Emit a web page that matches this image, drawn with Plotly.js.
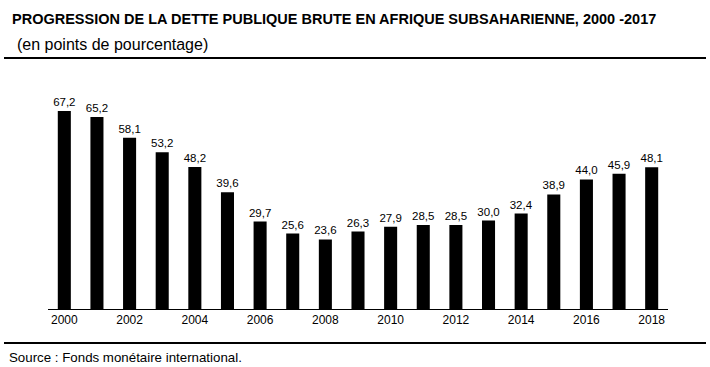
<!DOCTYPE html>
<html><head><meta charset="utf-8">
<script src="https://cdn.plot.ly/plotly-3.0.1.min.js"></script>
<style>body{margin:0;background:#fff}</style>
</head><body>
<div id="chart" style="width:710px;height:367px"></div>
<script>
const years = ["2000","2001","2002","2003","2004","2005","2006","2007","2008","2009","2010","2011","2012","2013","2014","2015","2016","2017","2018"];
const debt = [67.2,65.2,58.1,53.2,48.2,39.6,29.7,25.6,23.6,26.3,27.9,28.5,28.5,30.0,32.4,38.9,44.0,45.9,48.1];
const tickYears = ["2000","2002","2004","2006","2008","2010","2012","2014","2016","2018"];
const labels = debt.map(v => v.toFixed(1).replace('.', ','));

const W = 710, H = 367, L = 48, R = 42, T = 80, B = 58;
const pw = W - L - R, ph = H - T - B;
const px = x => (x - L) / pw;
const py = y => (H - B - y) / ph;

const trace = {
  type: 'bar', x: years, y: debt, text: labels, textposition: 'outside', constraintext: 'none',
  textfont: {family: 'Arial, Liberation Sans, sans-serif', size: 11.5, color: '#000'},
  outsidetextfont: {family: 'Arial, Liberation Sans, sans-serif', size: 11.5, color: '#000'},
  marker: {color: '#000'}, width: 0.4, cliponaxis: false, hoverinfo: 'none'
};
const layout = {
  width: W, height: H, margin: {l: L, r: R, t: T, b: B},
  paper_bgcolor: '#fff', plot_bgcolor: '#fff', showlegend: false,
  font: {family: 'Arial, Liberation Sans, sans-serif', color: '#000'},
  xaxis: {type: 'category', range: [-0.5, 18.5], tickvals: tickYears, ticktext: tickYears,
    showline: true, linecolor: '#000', linewidth: 1, ticks: '', showgrid: false,
    tickfont: {size: 12, color: '#000'}, fixedrange: true},
  yaxis: {range: [0, (H - B - T) / 2.946], visible: false, showgrid: false, zeroline: false, fixedrange: true},
  shapes: [
    {type: 'line', xref: 'paper', yref: 'paper', x0: px(4), x1: px(706), y0: py(58), y1: py(58), line: {color: '#000', width: 2}},
    {type: 'line', xref: 'paper', yref: 'paper', x0: px(4), x1: px(706), y0: py(343), y1: py(343), line: {color: '#000', width: 2}}
  ],
  annotations: [
    {xref: 'paper', yref: 'paper', x: px(10), y: py(19), xanchor: 'left', yanchor: 'middle', showarrow: false,
     text: '<b>PROGRESSION DE LA DETTE PUBLIQUE BRUTE EN AFRIQUE SUBSAHARIENNE, 2000 -2017</b>',
     font: {size: 14.5, color: '#000'}},
    {xref: 'paper', yref: 'paper', x: px(15), y: py(44), xanchor: 'left', yanchor: 'middle', showarrow: false,
     text: '(en points de pourcentage)', font: {size: 16, color: '#000'}},
    {xref: 'paper', yref: 'paper', x: px(7), y: py(357), xanchor: 'left', yanchor: 'middle', showarrow: false,
     text: 'Source : Fonds monétaire international.', font: {size: 13.3, color: '#000'}}
  ]
};
Plotly.newPlot('chart', [trace], layout, {displayModeBar: false, staticPlot: true});
</script>
</body></html>
